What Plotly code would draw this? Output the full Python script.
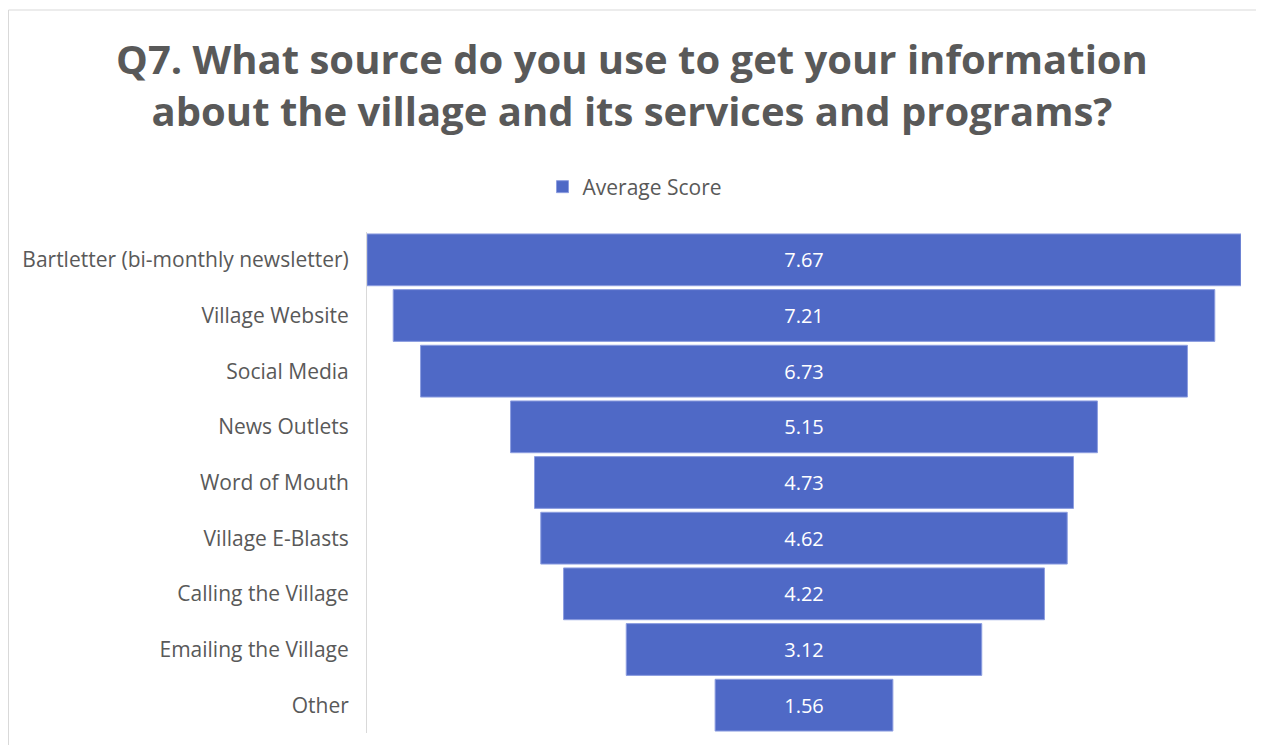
import plotly.graph_objects as go

categories = [
    "Bartletter (bi-monthly newsletter)",
    "Village Website",
    "Social Media",
    "News Outlets",
    "Word of Mouth",
    "Village E-Blasts",
    "Calling the Village",
    "Emailing the Village",
    "Other",
]
values = [7.67, 7.21, 6.73, 5.15, 4.73, 4.62, 4.22, 3.12, 1.56]
series_name = "Average Score"
title_text = "Q7. What source do you use to get your information<br>about the village and its services and programs?"

# page has an 8px body margin; figure sized to fit the 1264x745 window
OFF = 8
W, H = 1264 - OFF, 745 - OFF
L = 367 - OFF
R = W - (1241 - OFF)
T = 232 - OFF
B = H - (733 - OFF)
pw, ph = W - L - R, H - T - B

def px_x(p):  # page pixel -> paper x
    return (p - OFF - L) / pw

def px_y(p):  # page pixel -> paper y
    return (H - B - (p - OFF)) / ph

vmax = max(values)

fig = go.Figure()
fig.add_trace(go.Funnel(
    name=series_name,
    y=categories,
    x=values,
    text=[f"{v:.2f}" for v in values],
    textinfo="text",
    textposition="inside",
    insidetextanchor="middle",
    textfont=dict(family="Open Sans", size=20, color="white"),
    marker=dict(color="#4F69C6", line=dict(color="#8D9EE0", width=1)),
    connector=dict(visible=False),
    showlegend=True,
    hoverinfo="y+x",
))

fig.update_layout(
    width=W, height=H,
    margin=dict(l=L, r=R, t=T, b=B),
    paper_bgcolor="white",
    plot_bgcolor="white",
    funnelgap=0.07,
    font=dict(family="Open Sans", color="#595959"),
    title=dict(
        text=title_text,
        x=(632 - OFF) / W, xref="container", xanchor="center",
        y=1 - 66 / H, yref="container", yanchor="top",
        font=dict(family="Open Sans", size=40, color="#595959", weight="bold"),
    ),
    legend=dict(
        orientation="h",
        x=(635 - OFF) / W, xref="container", xanchor="center",
        y=1 - (187 - OFF) / H, yref="container", yanchor="middle",
        font=dict(family="Open Sans", size=21, color="#595959"),
    ),
    xaxis=dict(visible=False, range=[-vmax / 2, vmax / 2]),
    yaxis=dict(
        showline=True, linecolor="#D9D9D9", linewidth=1,
        showgrid=False, ticks="", ticklabelstandoff=13,
        tickfont=dict(family="Open Sans", size=21, color="#595959"),
    ),
    shapes=[dict(
        type="rect", xref="paper", yref="paper",
        x0=px_x(OFF + 0.5), x1=px_x(1258), y0=px_y(760), y1=px_y(10),
        line=dict(color="#D9D9D9", width=1), layer="below",
    )],
)

fig.write_html("out.html")
